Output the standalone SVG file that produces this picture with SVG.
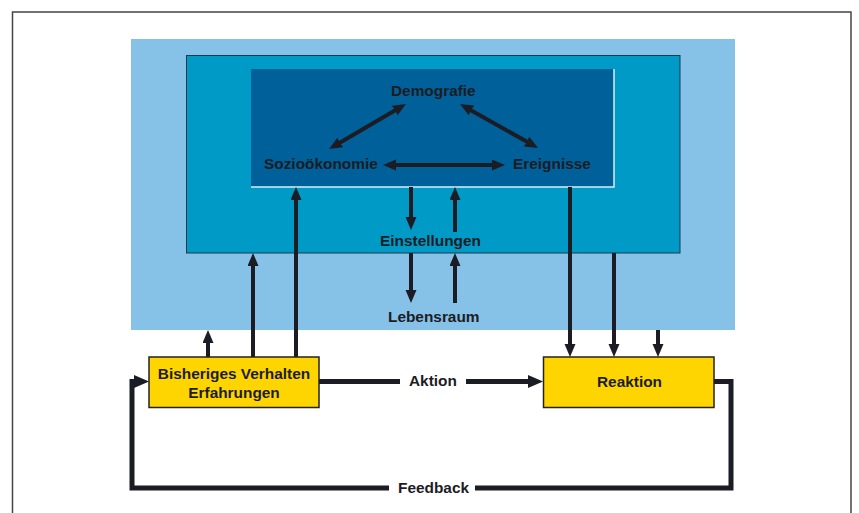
<svg xmlns="http://www.w3.org/2000/svg" width="859" height="513" viewBox="0 0 859 513">
<style>
.t{font-family:"Liberation Sans",Arial,sans-serif;font-weight:bold;font-size:15.4px;fill:#1c1c24}
.c{fill:none;stroke:#1c1c24;stroke-width:4}
.cw{fill:none;stroke:#1c1c24;stroke-width:5}
.box{fill:#FFD500;stroke:#222;stroke-width:1.5}
</style>
<defs>
<marker id="a" markerUnits="userSpaceOnUse" markerWidth="14" markerHeight="12" refX="2" refY="5.5" orient="auto-start-reverse">
<path d="M0,0 L13,5.5 L0,11 z" fill="#1c1c24"/>
</marker>
<marker id="b" markerUnits="userSpaceOnUse" markerWidth="16" markerHeight="14" refX="2" refY="6.5" orient="auto-start-reverse">
<path d="M0,0 L15,6.5 L0,13 z" fill="#1c1c24"/>
</marker>
</defs>
<rect x="12.5" y="12" width="838.5" height="520" fill="#fff" stroke="#444" stroke-width="1.5"/>
<g id="lebensraum">
<rect x="131" y="39" width="604" height="291" fill="#86C2E7"/>
<text class="t" x="388" y="322">Lebensraum</text>
</g>
<g id="einstellungen">
<rect x="186.5" y="55.5" width="493.5" height="197.5" fill="#009AC7" stroke="#1a3a4a" stroke-width="1"/>
<text class="t" x="380" y="246">Einstellungen</text>
</g>
<g id="kern">
<rect x="251" y="69" width="363" height="118" fill="#006099"/>
<path d="M614,69 V187 H251" fill="none" stroke="#d8eef6" stroke-width="1.5"/>
</g>
<g id="demografie"><text class="t" x="391" y="96">Demografie</text></g>
<g id="soziooekonomie"><text class="t" x="264" y="169">Sozioökonomie</text></g>
<g id="ereignisse"><text class="t" x="513" y="169">Ereignisse</text></g>
<g id="bisheriges">
<rect class="box" x="149" y="357" width="170" height="50.5"/>
<text class="t" x="234" y="379" text-anchor="middle">Bisheriges Verhalten</text>
<text class="t" x="234" y="398" text-anchor="middle">Erfahrungen</text>
</g>
<g id="reaktion">
<rect class="box" x="543.5" y="357" width="170.5" height="50.5"/>
<text class="t" x="597" y="387">Reaktion</text>
</g>
<g id="connectors">
<line class="c" x1="338.5" y1="143.5" x2="396.5" y2="109.5" marker-start="url(#a)" marker-end="url(#a)"/>
<line class="c" x1="469.6" y1="109.4" x2="528.4" y2="142.6" marker-start="url(#a)" marker-end="url(#a)"/>
<line class="c" x1="394" y1="165" x2="494" y2="165" marker-start="url(#a)" marker-end="url(#a)"/>
<line class="c" x1="411" y1="187" x2="411" y2="219" marker-end="url(#a)"/>
<line class="c" x1="455" y1="232" x2="455" y2="198" marker-end="url(#a)"/>
<line class="c" x1="411" y1="253" x2="411" y2="292" marker-end="url(#a)"/>
<line class="c" x1="455" y1="303" x2="455" y2="264" marker-end="url(#a)"/>
<line class="c" x1="208" y1="357" x2="208" y2="341" marker-end="url(#a)"/>
<line class="c" x1="253" y1="357" x2="253" y2="264" marker-end="url(#a)"/>
<line class="c" x1="296" y1="357" x2="296" y2="198" marker-end="url(#a)"/>
<line class="c" x1="570" y1="187" x2="570" y2="346" marker-end="url(#a)"/>
<line class="c" x1="614" y1="253" x2="614" y2="346" marker-end="url(#a)"/>
<line class="c" x1="658" y1="330" x2="658" y2="346" marker-end="url(#a)"/>
<line class="cw" x1="319" y1="381.5" x2="400" y2="381.5"/>
<line class="cw" x1="466" y1="381.5" x2="530" y2="381.5" marker-end="url(#b)"/>
<text class="t" x="409" y="386">Aktion</text>
<path class="cw" d="M714,381.5 H731 V488 H475"/>
<path class="cw" d="M389,488 H132 V381.5 H136" marker-end="url(#b)"/>
<text class="t" x="398" y="493">Feedback</text>
</g>
</svg>
